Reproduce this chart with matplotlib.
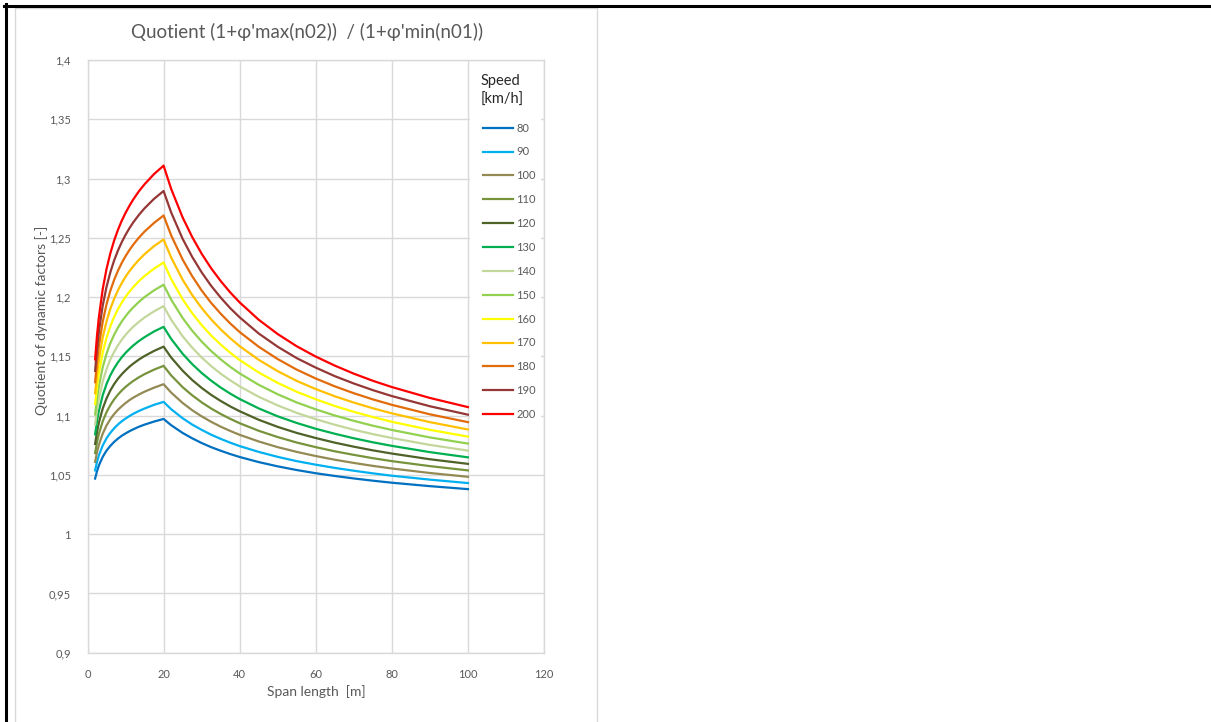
import matplotlib
matplotlib.use("Agg")
import matplotlib.pyplot as plt
from matplotlib.lines import Line2D
from matplotlib.patches import Rectangle
from matplotlib.ticker import FuncFormatter

plt.rcParams['font.family'] = ['Lato', 'DejaVu Sans']

# span length [m]
span = [2, 2.5, 3, 4, 5, 6, 7, 8, 9, 10, 11, 12, 13.5, 15, 17.5, 20, 22, 25, 27.5, 30,
        32.5, 35, 37.5, 40, 45, 50, 55, 60, 65, 70, 75, 80, 90, 100]

# quotient of dynamic factors per speed [km/h]
q80 = [1.0469, 1.0531, 1.0580, 1.0652, 1.0705, 1.0745, 1.0778, 1.0806, 1.0830, 1.0850, 1.0868,
       1.0884, 1.0906, 1.0924, 1.0950, 1.0972, 1.0919, 1.0854, 1.0809, 1.0769, 1.0734, 1.0704,
       1.0676, 1.0651, 1.0608, 1.0572, 1.0541, 1.0514, 1.0491, 1.0470, 1.0451, 1.0434, 1.0405, 1.0380]
q90 = [1.0538, 1.0610, 1.0665, 1.0748, 1.0809, 1.0855, 1.0893, 1.0925, 1.0952, 1.0975, 1.0996,
       1.1015, 1.1039, 1.1060, 1.1091, 1.1116, 1.1054, 1.0978, 1.0925, 1.0880, 1.0839, 1.0804,
       1.0772, 1.0743, 1.0694, 1.0652, 1.0616, 1.0586, 1.0559, 1.0535, 1.0513, 1.0493, 1.0460, 1.0431]
q100 = [1.0610, 1.0691, 1.0754, 1.0848, 1.0917, 1.0970, 1.1013, 1.1049, 1.1079, 1.1106, 1.1130,
        1.1151, 1.1178, 1.1202, 1.1236, 1.1265, 1.1194, 1.1107, 1.1046, 1.0994, 1.0948, 1.0907,
        1.0871, 1.0838, 1.0782, 1.0734, 1.0694, 1.0659, 1.0628, 1.0601, 1.0576, 1.0554, 1.0516, 1.0484]
q110 = [1.0684, 1.0776, 1.0847, 1.0952, 1.1029, 1.1088, 1.1137, 1.1177, 1.1212, 1.1242, 1.1268,
        1.1292, 1.1323, 1.1350, 1.1388, 1.1420, 1.1339, 1.1240, 1.1172, 1.1112, 1.1060, 1.1014,
        1.0973, 1.0936, 1.0872, 1.0819, 1.0773, 1.0734, 1.0699, 1.0669, 1.0641, 1.0616, 1.0574, 1.0538]
q120 = [1.0761, 1.0863, 1.0942, 1.1060, 1.1145, 1.1212, 1.1266, 1.1311, 1.1349, 1.1382, 1.1412,
        1.1438, 1.1473, 1.1503, 1.1546, 1.1582, 1.1490, 1.1379, 1.1301, 1.1234, 1.1175, 1.1124,
        1.1078, 1.1037, 1.0965, 1.0905, 1.0854, 1.0811, 1.0772, 1.0738, 1.0707, 1.0680, 1.0632, 1.0593]
q130 = [1.0842, 1.0954, 1.1042, 1.1172, 1.1266, 1.1340, 1.1399, 1.1449, 1.1492, 1.1529, 1.1561,
        1.1591, 1.1629, 1.1662, 1.1710, 1.1749, 1.1647, 1.1522, 1.1435, 1.1360, 1.1295, 1.1237,
        1.1186, 1.1140, 1.1061, 1.0994, 1.0938, 1.0889, 1.0847, 1.0809, 1.0775, 1.0745, 1.0692, 1.0648]
q140 = [1.0924, 1.1048, 1.1145, 1.1288, 1.1392, 1.1473, 1.1538, 1.1593, 1.1640, 1.1681, 1.1717,
        1.1749, 1.1791, 1.1828, 1.1880, 1.1924, 1.1809, 1.1670, 1.1574, 1.1491, 1.1418, 1.1354,
        1.1298, 1.1247, 1.1159, 1.1086, 1.1023, 1.0970, 1.0923, 1.0881, 1.0844, 1.0811, 1.0753, 1.0705]
q150 = [1.1010, 1.1146, 1.1251, 1.1408, 1.1522, 1.1611, 1.1682, 1.1742, 1.1794, 1.1838, 1.1878,
        1.1913, 1.1959, 1.2000, 1.2057, 1.2104, 1.1978, 1.1824, 1.1717, 1.1625, 1.1545, 1.1475,
        1.1412, 1.1356, 1.1260, 1.1180, 1.1111, 1.1053, 1.1001, 1.0956, 1.0915, 1.0879, 1.0816, 1.0764]
q160 = [1.1098, 1.1246, 1.1361, 1.1532, 1.1657, 1.1753, 1.1832, 1.1897, 1.1953, 1.2002, 1.2045,
        1.2083, 1.2134, 1.2178, 1.2240, 1.2292, 1.2152, 1.1982, 1.1865, 1.1764, 1.1676, 1.1600,
        1.1531, 1.1469, 1.1364, 1.1276, 1.1201, 1.1138, 1.1081, 1.1032, 1.0988, 1.0948, 1.0880, 1.0823]
q170 = [1.1189, 1.1350, 1.1474, 1.1660, 1.1795, 1.1901, 1.1986, 1.2057, 1.2118, 1.2171, 1.2218,
        1.2259, 1.2314, 1.2362, 1.2430, 1.2486, 1.2333, 1.2147, 1.2018, 1.1908, 1.1812, 1.1728,
        1.1653, 1.1586, 1.1471, 1.1375, 1.1293, 1.1224, 1.1163, 1.1110, 1.1062, 1.1019, 1.0945, 1.0883]
q180 = [1.1282, 1.1456, 1.1591, 1.1792, 1.1939, 1.2053, 1.2145, 1.2222, 1.2288, 1.2345, 1.2396,
        1.2441, 1.2501, 1.2553, 1.2626, 1.2688, 1.2520, 1.2317, 1.2177, 1.2056, 1.1951, 1.1860,
        1.1778, 1.1705, 1.1581, 1.1477, 1.1388, 1.1313, 1.1247, 1.1189, 1.1137, 1.1091, 1.1011, 1.0945]
q190 = [1.1378, 1.1565, 1.1711, 1.1928, 1.2086, 1.2209, 1.2309, 1.2392, 1.2463, 1.2525, 1.2580,
        1.2629, 1.2693, 1.2749, 1.2829, 1.2895, 1.2713, 1.2492, 1.2340, 1.2209, 1.2095, 1.1996,
        1.1907, 1.1829, 1.1693, 1.1581, 1.1485, 1.1405, 1.1333, 1.1271, 1.1215, 1.1165, 1.1079, 1.1008]
q200 = [1.1475, 1.1676, 1.1833, 1.2067, 1.2237, 1.2369, 1.2477, 1.2567, 1.2644, 1.2710, 1.2769,
        1.2822, 1.2892, 1.2952, 1.3038, 1.3109, 1.2912, 1.2672, 1.2508, 1.2366, 1.2243, 1.2136,
        1.2040, 1.1955, 1.1809, 1.1688, 1.1585, 1.1498, 1.1422, 1.1354, 1.1294, 1.1241, 1.1149, 1.1072]

speeds = [80, 90, 100, 110, 120, 130, 140, 150, 160, 170, 180, 190, 200]
curves = [q80, q90, q100, q110, q120, q130, q140, q150, q160, q170, q180, q190, q200]
colors = ['#0070C0', '#00B0F0', '#948A54', '#77933C', '#4F6228', '#00B050', '#C4D79B',
          '#92D050', '#FFFF00', '#FFC000', '#E26B0A', '#953735', '#FF0000']

x_ticks = [0, 20, 40, 60, 80, 100, 120]
y_ticks = [0.9, 0.95, 1.0, 1.05, 1.1, 1.15, 1.2, 1.25, 1.3, 1.35, 1.4]

grey = '#595959'
grid = '#d9d9d9'

W, H = 1211, 722
fig = plt.figure(figsize=(W / 100, H / 100), dpi=100)
ax_l, ax_r, ax_t, ax_b = 87.5, 544, 60, 652.7
ax = fig.add_axes([ax_l / W, 1 - ax_b / H, (ax_r - ax_l) / W, (ax_b - ax_t) / H])


def ax_x(px):
    return (px - ax_l) / (ax_r - ax_l)


def ax_y(py):
    return (ax_b - py) / (ax_b - ax_t)


for s, q, c in zip(speeds, curves, colors):
    ax.plot(span, q, color=c, lw=1.6, label=str(s), solid_joinstyle='round', zorder=3)

ax.set_xlim(0, 120)
ax.set_ylim(0.9, 1.4)
ax.set_xticks(x_ticks)
ax.set_yticks(y_ticks)
ax.yaxis.set_major_formatter(FuncFormatter(lambda v, p: f'{round(v, 2):g}'.replace('.', ',')))
ax.grid(True, color=grid, lw=1)
ax.set_axisbelow(True)
ax.tick_params(length=0, colors=grey, labelsize=8)
ax.tick_params(axis='y', pad=12)
ax.tick_params(axis='x', pad=12)
for sp in ax.spines.values():
    sp.set_color(grid)
    sp.set_linewidth(1)

# white panel behind the legend
x0, x1 = ax_x(470), ax_x(541)
y0, y1 = ax_y(425), ax_y(62)
ax.add_patch(Rectangle((x0, y0), x1 - x0, y1 - y0, transform=ax.transAxes,
                       facecolor='white', edgecolor='none', zorder=1.5, clip_on=False))

leg = ax.legend(loc='upper left', bbox_to_anchor=(ax_x(483), ax_y(122.5)),
                frameon=False, fontsize=8, handlelength=2.7, handletextpad=0.3,
                labelspacing=1.16, borderpad=0, borderaxespad=0, labelcolor=grey)
leg.set_zorder(4)
ax.text(ax_x(481), ax_y(81), 'Speed', transform=ax.transAxes, ha='left', va='center',
        fontsize=10.5, color='#262626', zorder=4)
ax.text(ax_x(481), ax_y(100), '[km/h]', transform=ax.transAxes, ha='left', va='center',
        fontsize=10.5, color='#262626', zorder=4)

fig.text(307 / W, 1 - 32 / H, "Quotient (1+φ'max(n02))  / (1+φ'min(n01))",
         ha='center', va='center', fontsize=13.5, color=grey)
fig.text(42 / W, 1 - 320 / H, 'Quotient of dynamic factors [-]', rotation=90,
         ha='center', va='center', fontsize=10, color=grey)
fig.text(316 / W, 1 - 692 / H, 'Span length  [m]', ha='center', va='center',
         fontsize=10, color=grey)

# chart frame and outer border
fig.add_artist(Line2D([15 / W, 15 / W], [0, 1 - 8 / H], color=grid, lw=1))
fig.add_artist(Line2D([15 / W, 597 / W], [1 - 8 / H, 1 - 8 / H], color=grid, lw=1))
fig.add_artist(Line2D([597 / W, 597 / W], [0, 1 - 8 / H], color=grid, lw=1))
fig.add_artist(Line2D([4 / W, 1], [1 - 5.5 / H, 1 - 5.5 / H], color='black', lw=2.2))
fig.add_artist(Line2D([6 / W, 6 / W], [0, 1 - 4 / H], color='black', lw=2.2))

fig.savefig('out.png', dpi=100)
